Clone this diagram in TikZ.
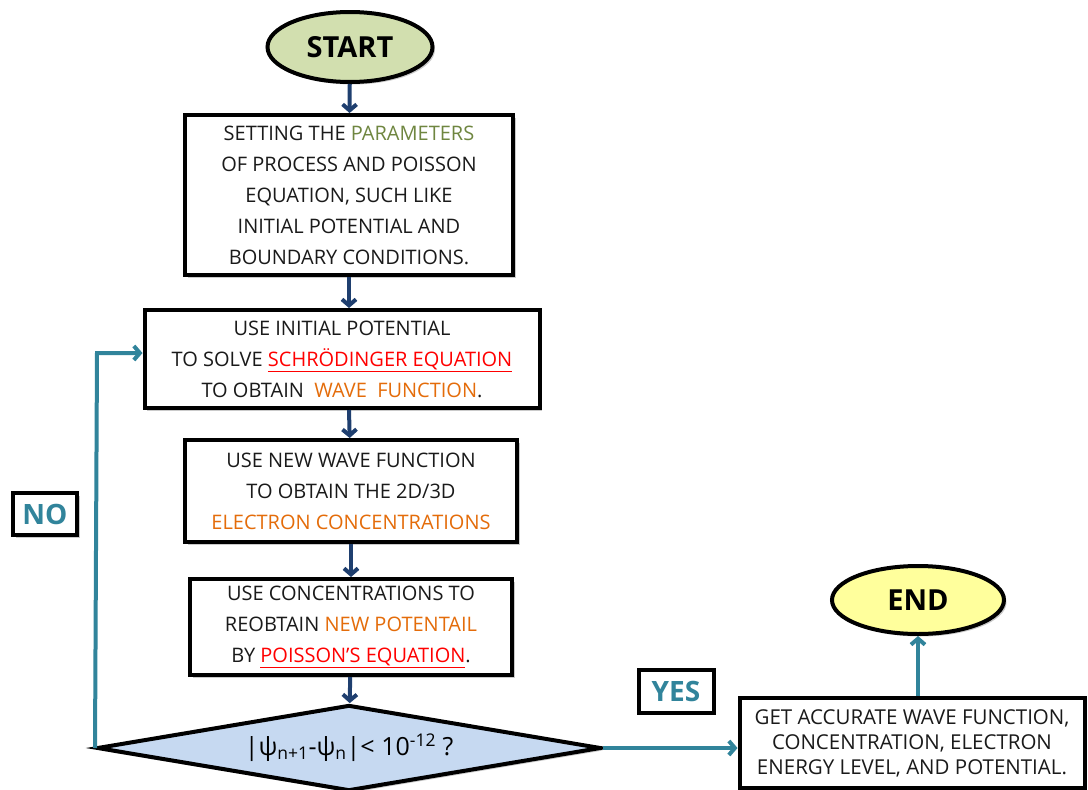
\documentclass[tikz,border=0pt]{standalone}
\usepackage{fontspec}
\setmainfont{Open Sans}
\usetikzlibrary{shapes.geometric,arrows.meta,shadows}
\definecolor{navy}{HTML}{1F3F6F}
\definecolor{tealc}{HTML}{31849B}
\definecolor{startg}{HTML}{D2DFAF}
\definecolor{endy}{HTML}{FFFF9C}
\definecolor{diab}{HTML}{C6D9F1}
\definecolor{olive}{HTML}{6F8640}
\definecolor{orng}{HTML}{E46C0A}
\definecolor{txt}{HTML}{1A1A1A}
\newcommand{\redul}[1]{\textcolor{red}{\underline{#1}}}
\begin{document}
\begin{tikzpicture}[x=1pt,y=-1pt,
  shd/.style={drop shadow={shadow xshift=2.5pt,shadow yshift=-2.5pt,opacity=0.35,fill=black!60}},
  procbox/.style={draw=black,line width=4pt,fill=white,shd,align=center,inner sep=0pt,text=txt,
     font=\fontsize{20}{31}\selectfont},
  term/.style={ellipse,draw=black,line width=4pt,shd,inner sep=0pt,font=\fontsize{29}{32}\selectfont\bfseries},
  tag/.style={draw=black,line width=4pt,fill=white,shd,inner sep=0pt,text=tealc,font=\fontsize{28}{30}\selectfont\bfseries},
  flow/.style={draw=navy,line width=4pt,-{Straight Barb[length=6pt,width=14pt]}},
  loopar/.style={draw=tealc,line width=4pt,-{Straight Barb[length=6pt,width=14pt]}}]
\useasboundingbox (0,0) rectangle (1088,790);

\node[term,fill=startg,minimum width=165pt,minimum height=70pt] (start) at (350,47) {START};

\node[procbox,minimum width=328pt,minimum height=160pt] (b1) at (349,195)
 {SETTING THE \textcolor{olive}{PARAMETERS}\\OF PROCESS AND POISSON\\EQUATION, SUCH LIKE\\INITIAL POTENTIAL AND\\BOUNDARY CONDITIONS.};

\node[procbox,minimum width=395pt,minimum height=98pt] (b2) at (342,359)
 {USE INITIAL POTENTIAL\\TO SOLVE \redul{SCHRÖDINGER EQUATION}\\TO OBTAIN\ \ \textcolor{orng}{WAVE\ \ FUNCTION}.};

\node[procbox,minimum width=332pt,minimum height=102pt] (b3) at (351,491)
 {USE NEW WAVE FUNCTION\\TO OBTAIN THE 2D/3D\\\textcolor{orng}{ELECTRON CONCENTRATIONS}};

\node[procbox,minimum width=322pt,minimum height=96pt] (b4) at (351,627)
 {USE CONCENTRATIONS TO\\REOBTAIN \textcolor{orng}{NEW POTENTAIL}\\BY \redul{POISSON’S EQUATION}.};

\node[diamond,draw=black,line width=4pt,fill=diab,shd,aspect=5.86,inner sep=0pt,
      minimum width=504pt,minimum height=86pt,font=\fontsize{25}{28}\selectfont] (dia) at (349,748)
 {|ψ\textsubscript{n+1}-ψ\textsubscript{n}|< 10\textsuperscript{-12} ?};

\node[procbox,minimum width=345pt,minimum height=90pt,font=\fontsize{20.5}{25}\selectfont] (fin) at (912,743)
 {GET ACCURATE WAVE FUNCTION,\\CONCENTRATION, ELECTRON\\ENERGY LEVEL, AND POTENTIAL.};

\node[term,fill=endy,minimum width=172pt,minimum height=68pt] (end) at (918,600) {END};

\node[tag,minimum width=64pt,minimum height=42pt] (no) at (45,514) {NO};
\node[tag,minimum width=75pt,minimum height=43pt] (yes) at (676,691) {YES};

\draw[flow] (start) -- (b1);
\draw[flow] (b1) -- (b2.north -| b1);
\draw[flow] (b2.south -| b1) -- (b3);
\draw[flow] (b3) -- (b4);
\draw[flow] (b4) -- (dia);

\coordinate (lc) at (97,353);
\draw[loopar] (dia.west) -- (lc) -- (lc -| b2.west);
\draw[loopar] (dia.east) -- (dia.east -| fin.west);
\draw[loopar] (fin.north -| end) -- (end);
\end{tikzpicture}
\end{document}
